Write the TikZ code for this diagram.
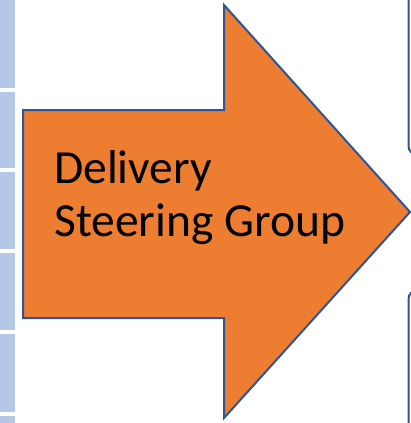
\documentclass[tikz,border=0pt]{standalone}
\usepackage{fontspec}
\setmainfont{Carlito}
\usepackage{xcolor}
\usetikzlibrary{positioning}
\definecolor{dsgorange}{HTML}{ED7D31}
\definecolor{dsgedge}{HTML}{2F5597}
\definecolor{stripblue}{HTML}{B4C7E7}
\tikzset{
  stripcell/.style={fill=stripblue, draw=white, line width=0.6pt},
  sidebox/.style={draw=dsgedge, line width=2pt, rounded corners=9pt, fill=white},
  bigarrow/.style={fill=dsgorange, draw=dsgedge, line width=2pt, line join=miter},
  arrowtext/.style={inner sep=0pt, align=left, font=\fontsize{47.5}{53}\selectfont}
}
\begin{document}
\begin{tikzpicture}[x=1pt,y=-1pt]
\useasboundingbox (0,0) rectangle (411,423);
\clip (0,0) rectangle (411,423);
% strip on the left
\foreach \top/\bot in {-5/88, 91/168, 171/249, 252/330, 333/412, 415/430}
  \draw [stripcell] (-2,\top) rectangle (15,\bot);
% boxes on the right
\draw [sidebox] (408.5,-20) rectangle (460,155);
\draw [sidebox] (408.5,290) rectangle (460,450);
% the arrow
\draw [bigarrow] (23,110) -- (224,110) -- (224,5) -- (410,212)
  -- (224,418) -- (224,318) -- (23,318) -- cycle;
\node [arrowtext, anchor=base west] (dsg) at (54,236) {Delivery\\Steering Group};
\end{tikzpicture}
\end{document}
